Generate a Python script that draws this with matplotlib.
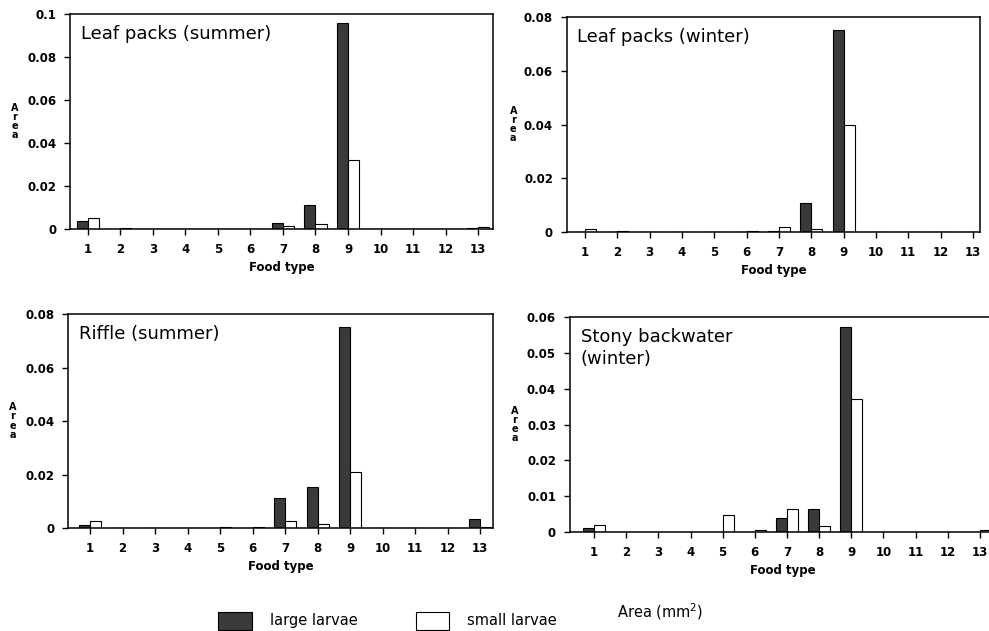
import numpy as np
import matplotlib.pyplot as plt
from matplotlib.patches import Patch

food = np.arange(1, 14)

# Area (mm^2) per food type, large and small larvae
ls_large = [0.0035, 0, 0, 0, 0, 0, 0.003, 0.011, 0.096, 0, 0, 0, 0.0005]
ls_small = [0.005, 0.0005, 0, 0, 0, 0.0002, 0.0015, 0.0025, 0.032, 0, 0, 0, 0.0007]
lw_large = [0, 0, 0, 0, 0, 0, 0.0003, 0.0108, 0.075, 0, 0, 0, 0]
lw_small = [0.0012, 0.0002, 0, 0, 0, 0.0004, 0.0018, 0.0012, 0.040, 0, 0, 0, 0]
rs_large = [0.001, 0, 0, 0, 0, 0, 0.0113, 0.0153, 0.075, 0, 0, 0, 0.0035]
rs_small = [0.0027, 0, 0, 0, 0.0004, 0.0003, 0.0027, 0.0016, 0.021, 0, 0, 0, 0.0005]
sb_large = [0.0011, 0, 0, 0, 0, 0, 0.0039, 0.0065, 0.0572, 0, 0, 0, 0]
sb_small = [0.0019, 0, 0, 0, 0.0047, 0.0006, 0.0065, 0.0016, 0.0372, 0, 0, 0, 0.0006]

dark = '#3a3a3a'
w = 0.34

panels = [
    # rect, title, large, small, yticks, ticklabels, xlim
    ([0.0708, 0.6371, 0.4277, 0.3407], "Leaf packs (summer)", ls_large, ls_small,
     [0, 0.02, 0.04, 0.06, 0.08, 0.1], ['0', '0.02', '0.04', '0.06', '0.08', '0.1'], (0.45, 13.46)),
    ([0.5733, 0.6323, 0.4176, 0.3407], "Leaf packs (winter)", lw_large, lw_small,
     [0, 0.02, 0.04, 0.06, 0.08], ['0', '0.02', '0.04', '0.06', '0.08'], (0.44, 13.22)),
    ([0.0688, 0.1632, 0.4297, 0.3391], "Riffle (summer)", rs_large, rs_small,
     [0, 0.02, 0.04, 0.06, 0.08], ['0', '0.02', '0.04', '0.06', '0.08'], (0.32, 13.4)),
    ([0.5763, 0.1569, 0.4307, 0.3407], "Stony backwater\n(winter)", sb_large, sb_small,
     [0, 0.01, 0.02, 0.03, 0.04, 0.05, 0.06],
     ['0', '0.01', '0.02', '0.03', '0.04', '0.05', '0.06'], (0.25, 13.5)),
]

fig = plt.figure(figsize=(9.89, 6.31), dpi=100)

for rect, title, large, small, yt, ytl, xl in panels:
    ax = fig.add_axes(rect)
    ax.bar(food - w / 2, large, width=w, color=dark, edgecolor='black', linewidth=0.8)
    ax.bar(food + w / 2, small, width=w, color='white', edgecolor='black', linewidth=0.8)
    ax.set_xlim(*xl)
    ax.set_ylim(0, yt[-1])
    ax.set_yticks(yt)
    ax.set_yticklabels(ytl, fontsize=8.5, fontweight='bold')
    ax.set_xticks(food)
    ax.set_xticklabels([str(f) for f in food], fontsize=8.5, fontweight='bold')
    ax.tick_params(direction='out', length=4, width=1, pad=6)
    for s in ax.spines.values():
        s.set_linewidth(1.1)
    ax.set_xlabel("Food type", fontsize=8.5, fontweight='bold', labelpad=4)
    ax.set_ylabel("A\nr\ne\na", fontsize=7, fontweight='bold', rotation=0,
                  linespacing=0.9, va='center', ha='center')
    ax.yaxis.set_label_coords(-0.13, 0.5)
    ax.text(0.025, 0.95, title, transform=ax.transAxes, fontsize=13,
            va='top', ha='left', linespacing=1.3)

handles = [Patch(facecolor=dark, edgecolor='black', linewidth=0.8),
           Patch(facecolor='white', edgecolor='black', linewidth=0.8)]
fig.legend(handles, ['large larvae', 'small larvae'], loc='lower left',
           bbox_to_anchor=(217 / 989, 0.0), ncol=2, frameon=False, fontsize=10.5,
           handlelength=2.3, handleheight=1.5, handletextpad=1.2,
           columnspacing=4.0, borderpad=0, borderaxespad=0.1)
fig.text(617 / 989, 0.022, "Area (mm$^{\\mathregular{2}}$)", fontsize=10.5, ha='left', va='baseline')

fig.savefig('out.png', dpi=100)
